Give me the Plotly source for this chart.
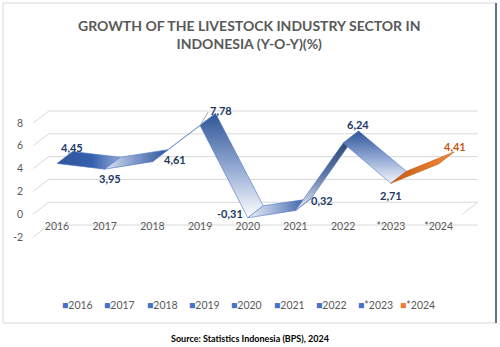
import plotly.graph_objects as go

# ---------------- data ----------------
categories = ["2016", "2017", "2018", "2019", "2020", "2021", "2022", "*2023", "*2024"]
growth = [4.45, 3.95, 4.61, 7.78, -0.31, 0.32, 6.24, 2.71, 4.41]
y_ticks = [-2, 0, 2, 4, 6, 8]
title_text = "GROWTH OF THE LIVESTOCK INDUSTRY SECTOR IN<br>INDONESIA (Y-O-Y)(%)"
source_text = "Source: Statistics Indonesia (BPS), 2024"

# ---------------- layout geometry ----------------
W, H = 500, 347
ML, MR, MT, MB = 33, 21, 95, 97
X0, X1 = -0.503, 8.847
Y0, Y1 = -3.14, 10.456
DX, DY = 0.325, 1.05  # pseudo-3D depth offset (category units, value units)

NAVY = "#203864"
ORANGE = "#ED7D31"
GRID = "#D9D9D9"
TXT = "#595959"
FONT = "Lato"


def px_x(px):
    return (px - ML) / (W - ML - MR)


def px_y(py):
    return 1 - (py - MT) / (H - MT - MB)


fig = go.Figure()

# ---------------- pseudo-3D walls / gridlines ----------------
n = len(categories)
gx, gy = [], []
for v in y_ticks:
    gx += [-0.5 + DX, n - 0.5 + DX, None]
    gy += [v + DY, v + DY, None]
    gx += [-0.5, -0.5 + DX, None]
    gy += [v, v + DY, None]
gx += [n - 0.5, n - 0.5 + DX, None]
gy += [0, DY, None]
fig.add_trace(go.Scatter(x=gx, y=gy, mode="lines", line=dict(color=GRID, width=1),
                         hoverinfo="skip", showlegend=False))

# ---------------- ribbon segments ----------------
seg_styles = [
    ("horizontal", [[0, "#2F5597"], [0.55, "#3560AD"], [1, "#93A8D3"]]),
    ("horizontal", [[0, "#DCE3F1"], [0.5, "#7D97CA"], [1, "#2F5597"]]),
    ("horizontal", [[0, "#4472C4"], [1, "#4472C4"]]),
    ("vertical", [[0, "#FFFFFF"], [0.45, "#9AAED6"], [1, "#2F5597"]]),
    ("horizontal", [[0, "#EEF1F8"], [0.5, "#8FA6D3"], [1, "#2F5597"]]),
    ("vertical", [[0, "#EDEFF3"], [0.45, "#5F77A6"], [1, "#1F3864"]]),
    ("vertical", [[0, "#F4F6FB"], [0.5, "#8EA5D2"], [1, "#2F5597"]]),
    ("horizontal", [[0, "#C55A11"], [1, "#F08A3E"]]),
]

for i in range(n - 1):
    xa, xb = i, i + 1
    ya, yb = growth[i], growth[i + 1]
    px = [xa, xb, xb + DX, xa + DX, xa]
    py = [ya, yb, yb + DY, ya + DY, ya]
    gtype, cs = seg_styles[i]
    if gtype == "horizontal":
        start, stop = min(px), max(px)
    else:
        start, stop = min(py), max(py)
    edge = "#C55A11" if i == n - 2 else "#4A76C6"
    fig.add_trace(go.Scatter(
        x=px, y=py, mode="lines", fill="toself",
        line=dict(color=edge, width=0.6),
        fillgradient=dict(type=gtype, colorscale=cs, start=start, stop=stop),
        hoverinfo="skip", showlegend=False))

# ---------------- data labels ----------------
label_offsets = [(15, 16), (5, -9), (23, 2), (21, 15), (-18, 4), (26, 10), (15, 19), (0, -12), (16, 17)]
for i, (cat, v) in enumerate(zip(categories, growth)):
    txt = f"{v:.2f}".replace(".", ",")
    col = "#C55A11" if i == n - 1 else NAVY
    fig.add_annotation(x=i, y=v, xref="x", yref="y", text=f"<b>{txt}</b>",
                       showarrow=False, xshift=label_offsets[i][0], yshift=label_offsets[i][1],
                       font=dict(family=FONT, size=11, color=col))
# leader line for the 2019 label
fig.add_annotation(x=3, y=growth[3], xref="x", yref="y", text="", showarrow=True,
                   ax=9, ay=-15, arrowhead=0, arrowwidth=1, arrowcolor="#A6A6A6")

# ---------------- legend (drawn as text) ----------------
for i, cat in enumerate(categories):
    col = ORANGE if i == n - 1 else "#4472C4"
    fig.add_annotation(x=px_x(60 + 42.3 * i), y=px_y(305), xref="paper", yref="paper",
                       xanchor="left", yanchor="middle", showarrow=False,
                       text=f"<span style='color:{col}'>■</span>{cat}",
                       font=dict(family=FONT, size=10.5, color=TXT))

# ---------------- title & source ----------------
fig.add_annotation(x=px_x(249), y=px_y(34), xref="paper", yref="paper", showarrow=False,
                   text=f"<b>{title_text}</b>", xanchor="center", yanchor="middle",
                   font=dict(family=FONT, size=14, color=TXT))
fig.add_annotation(x=px_x(250), y=px_y(338), xref="paper", yref="paper", showarrow=False,
                   text=f"<b>{source_text}</b>", xanchor="center", yanchor="middle",
                   font=dict(family=FONT, size=9, color="#000000"))

# ---------------- chart border ----------------
fig.add_shape(type="rect", xref="paper", yref="paper",
              x0=px_x(3), x1=px_x(496), y0=px_y(323), y1=px_y(3),
              line=dict(color=GRID, width=1), layer="below")
fig.add_shape(type="line", xref="paper", yref="paper",
              x0=px_x(496), x1=px_x(496), y0=px_y(323), y1=px_y(3),
              line=dict(color="#2F4B7C", width=1.5))

fig.update_layout(
    width=W, height=H,
    margin=dict(l=ML, r=MR, t=MT, b=MB),
    paper_bgcolor="white", plot_bgcolor="white",
    showlegend=False,
    xaxis=dict(range=[X0, X1], tickvals=list(range(n)), ticktext=categories,
               showgrid=False, zeroline=False, showline=False, ticks="",
               anchor="free", position=0.206,
               tickfont=dict(family=FONT, size=10.5, color=TXT)),
    yaxis=dict(range=[Y0, Y1], tickvals=y_ticks, ticktext=[str(t) for t in y_ticks],
               showgrid=False, zeroline=False, showline=False, ticks="",
               ticklabelstandoff=9,
               tickfont=dict(family=FONT, size=10.5, color=TXT)),
)

fig.write_html("out.html")
